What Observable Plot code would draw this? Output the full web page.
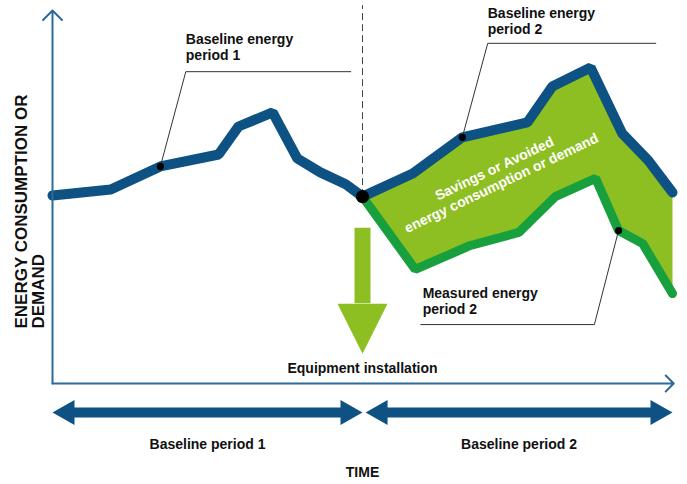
<!DOCTYPE html>
<html><head><meta charset="utf-8">
<script src="https://cdn.jsdelivr.net/npm/d3@7"></script>
<script src="https://cdn.jsdelivr.net/npm/@observablehq/plot@0.6"></script>
<style>
body{margin:0;background:#fff;}
#chart svg{overflow:visible;}
</style></head><body><div id="chart"></div>
<script>
// time (0..100) and energy (0..100) values
const baseline1 = [[0,50.4],[9.4,52.0],[17.4,58.2],[26.8,61.4],[30.0,68.9],[35.5,72.7],[39.5,60.3],[43.2,56.6],[47.3,53.4],[50,50.1]];
const baseline2 = [[50,50.1],[58.1,56.3],[66.1,66.0],[76.6,70.0],[80.6,79.6],[86.8,84.7],[91.9,67.0],[96.1,59.8],[100,51.2]];
const measured2 = [[50,50.1],[58.5,30.6],[67.4,37.0],[75.2,40.5],[81.1,50.1],[87.6,55.0],[91.3,41.0],[95.2,37.5],[100,24.1]];

const calloutLabels = ["Baseline energy\nperiod 1", "Baseline energy\nperiod 2", "Measured energy\nperiod 2"];
const calloutDots   = [[17.4,58.2],[66.1,66.0],[91.3,41.0]];
const calloutElbows = [[21.5,83.6],[70.2,91.2],[87.4,15.8]];
const calloutEnds   = [[48.1,83.6],[97.3,91.2],[59.4,15.8]];
const calloutText   = [[21.5,94.1],[70.2,101.1],[59.7,26.0]];

const periodLabels = ["Baseline period 1", "Baseline period 2"];
const periodStarts = [0, 50.5];
const periodEnds   = [50, 100];

const installation = {t: 50, label: "Equipment installation", junction: 50.1, dashTop: 101.3, arrowTop: 41.6, arrowBase: 21.4, arrowTip: 8.0, labelE: 3.9};
const savingsLabel = {t: 71.8, e: 55.8, label: "Savings or Avoided\nenergy consumption or demand"};
const axisLabels = {y: "ENERGY CONSUMPTION OR\nDEMAND", x: "TIME"};
const axisEnds = {x: 100.2, y: 100};

const pts = a => a.map(([t, e]) => ({t, e}));
const b1 = pts(baseline1), b2 = pts(baseline2), m2 = pts(measured2);
const savingsPoly = [...b2, ...m2.slice().reverse()];
const callouts = calloutLabels.flatMap((label, i) => [
  {id: i, t: calloutDots[i][0], e: calloutDots[i][1]},
  {id: i, t: calloutElbows[i][0], e: calloutElbows[i][1]},
  {id: i, t: calloutEnds[i][0], e: calloutEnds[i][1]}
]);
const calloutTexts = calloutLabels.map((label, i) => ({label, t: calloutText[i][0], e: calloutText[i][1]}));
const dots = calloutDots.map(([t, e]) => ({t, e}));
const periods = periodLabels.map((label, i) => ({label, start: periodStarts[i], end: periodEnds[i], mid: (periodStarts[i] + periodEnds[i]) / 2}));

const arrowHead = ratio => ({
  draw(ctx, size) {
    const w = Math.sqrt(size), h = w * ratio;
    ctx.moveTo(0, 0); ctx.lineTo(-w / 2, -h); ctx.lineTo(w / 2, -h); ctx.closePath();
  }
});

const BLUE = "#0d5282", GREEN = "#17a03d", LIME = "#8ebf22", AXIS = "#2d6a9c";
const FONT = "Liberation Sans, Arial, sans-serif";
const txt = {fontFamily: FONT, fontWeight: "bold", fontSize: 14, fill: "#111"};

const chart = Plot.plot({
  width: 687, height: 484,
  marginLeft: 52, marginRight: 15, marginTop: 10, marginBottom: 101,
  x: {domain: [0, 100], axis: null},
  y: {domain: [0, 100], axis: null},
  style: {background: "#fff", overflow: "visible"},
  marks: [
    Plot.line(savingsPoly, {x: "t", y: "e", fill: LIME, stroke: "none"}),
    Plot.ruleX([installation], {x: "t", y1: "arrowTop", y2: "arrowBase", stroke: LIME, strokeWidth: 16}),
    Plot.dot([installation], {x: "t", y: "arrowTip", symbol: arrowHead(1), r: 28.2, fill: LIME, stroke: "none"}),
    Plot.ruleX([installation], {x: "t", y1: "junction", y2: "dashTop", stroke: "#444", strokeWidth: 1, strokeDasharray: "7,4"}),
    Plot.line(m2, {x: "t", y: "e", stroke: GREEN, strokeWidth: 9, strokeLinejoin: "miter"}),
    Plot.line(b1, {x: "t", y: "e", stroke: BLUE, strokeWidth: 10, strokeLinejoin: "miter"}),
    Plot.line(b2, {x: "t", y: "e", stroke: BLUE, strokeWidth: 10, strokeLinejoin: "miter"}),
    Plot.line(callouts, {x: "t", y: "e", z: "id", stroke: "#333", strokeWidth: 1}),
    Plot.dot(dots, {x: "t", y: "e", r: 3.6, fill: "#000"}),
    Plot.dot([installation], {x: "t", y: "junction", r: 6.6, fill: "#000"}),
    Plot.text(calloutTexts, {x: "t", y: "e", text: "label", textAnchor: "start", lineAnchor: "top", lineHeight: 1.15, ...txt}),
    Plot.text([savingsLabel], {x: "t", y: "e", text: "label", rotate: -25.5, lineHeight: 1.15, ...txt, fill: "#fff"}),
    Plot.text([installation], {x: "t", y: "labelE", text: "label", ...txt}),
    // axes
    Plot.arrow([axisEnds], {x1: 0, y1: 0, x2: 0, y2: "y", stroke: AXIS, strokeWidth: 2, headLength: 10, headAngle: 90}),
    Plot.arrow([axisEnds], {x1: 0, y1: 0, x2: "x", y2: 0, stroke: AXIS, strokeWidth: 2, headLength: 8.5, headAngle: 90}),
    Plot.text([axisLabels], {x: 0, y: 0, dx: -37, dy: -55, text: "y", rotate: -90, textAnchor: "start", lineAnchor: "top", lineHeight: 0.97, ...txt, fontSize: 17}),
    Plot.text([axisLabels], {x: 50, y: 0, dy: 89, text: "x", ...txt}),
    // period arrows
    Plot.ruleY(periods, {x1: "start", x2: "end", y: 0, dy: 29, stroke: BLUE, strokeWidth: 10, insetLeft: 12, insetRight: 12}),
    Plot.dot(periods, {x: "start", y: 0, dy: 29, symbol: arrowHead(0.88), r: 14.1, rotate: 90, fill: BLUE, stroke: "none"}),
    Plot.dot(periods, {x: "end", y: 0, dy: 29, symbol: arrowHead(0.88), r: 14.1, rotate: -90, fill: BLUE, stroke: "none"}),
    Plot.text(periods, {x: "mid", y: 0, dy: 61, text: "label", ...txt})
  ]
});
document.getElementById("chart").append(chart);
</script></body></html>
